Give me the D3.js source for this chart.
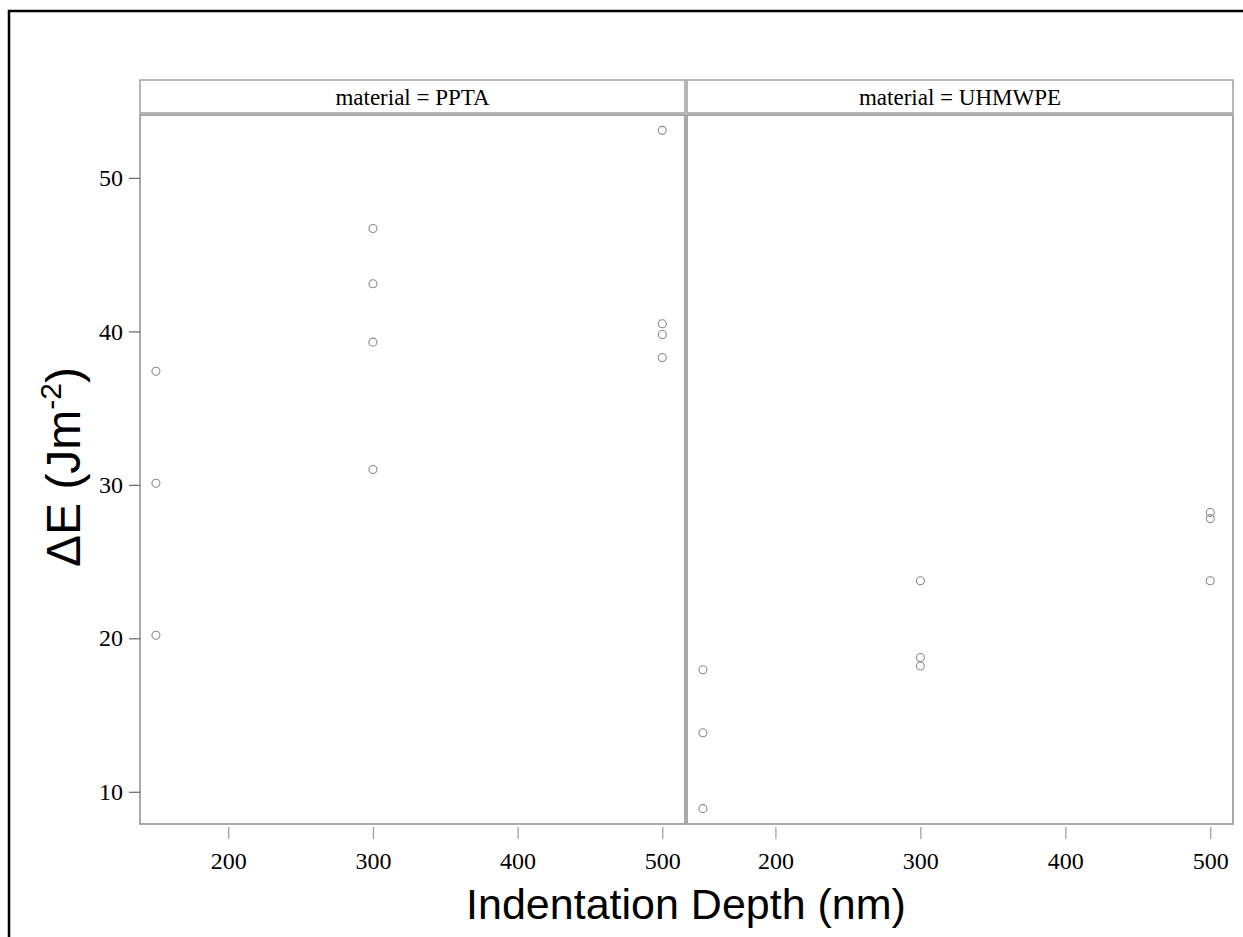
<!DOCTYPE html>
<html>
<head>
<meta charset="utf-8">
<script src="https://cdn.jsdelivr.net/npm/d3@7"></script>
<style>
  body { margin: 0; background: #fff; }
  .tick text { font-family: "Liberation Serif", "DejaVu Serif", serif; }
</style>
</head>
<body>
<div id="content"></div>
<script>
// panel names
var materials = ["PPTA", "UHMWPE"];

// PPTA points
var pptaDepth  = [150, 150, 150, 300, 300, 300, 300, 500, 500, 500, 500];
var pptaEnergy = [37.4, 30.1, 20.2, 46.7, 43.1, 39.3, 31.0, 53.1, 40.5, 39.8, 38.3];

// UHMWPE points
var uhmwpeDepth  = [150, 150, 150, 300, 300, 300, 500, 500, 500];
var uhmwpeEnergy = [17.95, 13.85, 8.9, 23.75, 18.75, 18.2, 28.2, 27.8, 23.75];

var xTicks = [200, 300, 400, 500];
var yTicks = [10, 20, 30, 40, 50];

var width = 1243, height = 937;
var plotTop = 115, plotBottom = 824, stripTop = 80;
var panels = [{ x0: 140, x1: 685 }, { x0: 687, x1: 1233 }];

var svg = d3.select("#content")
    .append("svg")
    .attr("width", width)
    .attr("height", height);

// outer frame (cut off on the right and bottom like the picture)
svg.append("rect")
    .attr("x", 9).attr("y", 11)
    .attr("width", 1300).attr("height", 1000)
    .attr("fill", "none")
    .attr("stroke", "#000")
    .attr("stroke-width", 2.5);

var y = d3.scaleLinear().domain([7.9, 54.1]).range([plotBottom, plotTop]);

var series = [
    { depth: pptaDepth, energy: pptaEnergy },
    { depth: uhmwpeDepth, energy: uhmwpeEnergy }
];

panels.forEach(function (p, i) {
    var x = d3.scaleLinear().domain([139, 515.7]).range([p.x0, p.x1]);

    // strip header
    svg.append("rect")
        .attr("x", p.x0).attr("y", stripTop)
        .attr("width", p.x1 - p.x0).attr("height", 33)
        .attr("fill", "#fff")
        .attr("stroke", "#a0a0a0")
        .attr("stroke-width", 1.5);
    svg.append("text")
        .attr("x", (p.x0 + p.x1) / 2).attr("y", stripTop + 25)
        .attr("text-anchor", "middle")
        .style("font-family", "'Liberation Serif', serif")
        .style("font-size", "23px")
        .text("material = " + materials[i]);

    // x axis
    var xAxis = svg.append("g")
        .attr("transform", "translate(0," + (plotBottom + 3) + ")")
        .call(d3.axisBottom(x).tickValues(xTicks).tickSize(12).tickPadding(13).tickFormat(d3.format("d")));
    xAxis.select(".domain").remove();
    xAxis.selectAll(".tick line").attr("stroke", "#999").attr("stroke-width", 1.2);
    xAxis.selectAll(".tick text").style("font-size", "24px").attr("fill", "#000");

    // panel box
    svg.append("rect")
        .attr("x", p.x0).attr("y", plotTop)
        .attr("width", p.x1 - p.x0).attr("height", plotBottom - plotTop)
        .attr("fill", "none")
        .attr("stroke", "#a0a0a0")
        .attr("stroke-width", 1.8);

    // points
    var s = series[i];
    svg.append("g")
        .selectAll("circle")
        .data(d3.range(s.depth.length))
        .enter()
        .append("circle")
        .attr("cx", function (k) { return x(s.depth[k]); })
        .attr("cy", function (k) { return y(s.energy[k]); })
        .attr("r", 4)
        .attr("fill", "none")
        .attr("stroke", "#8a8a8a")
        .attr("stroke-width", 1.1);
});

// y axis on the left panel
var yAxis = svg.append("g")
    .attr("transform", "translate(" + panels[0].x0 + ",0)")
    .call(d3.axisLeft(y).tickValues(yTicks).tickSize(11).tickPadding(6));
yAxis.select(".domain").remove();
yAxis.selectAll(".tick line").attr("stroke", "#666").attr("stroke-width", 1.2);
yAxis.selectAll(".tick text").style("font-size", "24px").attr("fill", "#000");

// axis titles
svg.append("text")
    .attr("x", 686).attr("y", 919)
    .attr("text-anchor", "middle")
    .style("font-family", "'Liberation Sans', Arial, sans-serif")
    .style("font-size", "43px")
    .text("Indentation Depth (nm)");

var yt = svg.append("text")
    .attr("transform", "translate(80,467) rotate(-90)")
    .attr("text-anchor", "middle")
    .style("font-family", "'Liberation Sans', Arial, sans-serif")
    .style("font-size", "48px");
yt.append("tspan").text("\u0394E (Jm");
yt.append("tspan").attr("dy", -19).style("font-size", "30px").text("-2");
yt.append("tspan").attr("dy", 19).text(")");
</script>
</body>
</html>
